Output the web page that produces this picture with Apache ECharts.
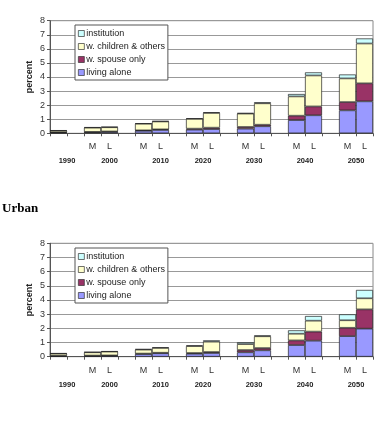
<!DOCTYPE html>
<html>
<head>
<meta charset="utf-8">
<script src="https://cdn.jsdelivr.net/npm/echarts@6/dist/echarts.min.js"></script>
<style>
  html, body { margin: 0; padding: 0; background: #fff; }
  #chart { width: 379px; height: 425px; }
</style>
</head>
<body>
<div id="chart"></div>
<script>
// bars in order: 1990, 2000 M/L, 2010 M/L, 2020 M/L, 2030 M/L, 2040 M/L, 2050 M/L
const slotLabels = ['', '', 'M', 'L', '', 'M', 'L', '', 'M', 'L', '', 'M', 'L', '', 'M', 'L', '', 'M', 'L']
const barSlots = [0, 2, 3, 5, 6, 8, 9, 11, 12, 14, 15, 17, 18]
// year labels sit on a half-slot scale (39 points)
const yearLabels = ['1990', '2000', '2010', '2020', '2030', '2040', '2050']
const yearPos = [2, 7, 13, 18, 24, 30, 36]

const seriesNames = ['living alone', 'w. spouse only', 'w. children & others', 'institution']
const colors = ['#9999ff', '#993366', '#ffffcc', '#ccffff']

// top panel
const topAlone = [0.05, 0.08, 0.10, 0.18, 0.24, 0.26, 0.30, 0.33, 0.50, 0.94, 1.28, 1.63, 2.27]
const topSpouse = [0.02, 0.02, 0.03, 0.03, 0.04, 0.07, 0.10, 0.12, 0.11, 0.31, 0.63, 0.59, 1.28]
const topChildren = [0.12, 0.30, 0.30, 0.47, 0.56, 0.70, 1.05, 0.95, 1.52, 1.37, 2.20, 1.68, 2.83]
const topInst = [0.02, 0.03, 0.03, 0.03, 0.03, 0.03, 0.04, 0.04, 0.07, 0.17, 0.22, 0.28, 0.36]

// urban panel
const urbAlone = [0.05, 0.06, 0.07, 0.19, 0.24, 0.21, 0.26, 0.31, 0.45, 0.82, 1.13, 1.45, 1.98]
const urbSpouse = [0.02, 0.02, 0.02, 0.03, 0.04, 0.05, 0.07, 0.16, 0.16, 0.33, 0.64, 0.59, 1.36]
const urbChildren = [0.15, 0.23, 0.27, 0.28, 0.34, 0.49, 0.73, 0.42, 0.83, 0.47, 0.77, 0.53, 0.78]
const urbInst = [0.02, 0.02, 0.02, 0.04, 0.04, 0.05, 0.09, 0.13, 0.06, 0.24, 0.33, 0.42, 0.59]

const yTicks = [0, 8, 1]

const toSlots = (vals) => {
  const out = slotLabels.map(() => null)
  barSlots.forEach((s, i) => { out[s] = vals[i] })
  return out
}

const yearCats = []
for (let i = 0; i < 39; i++) yearCats.push('')
yearPos.forEach((p, i) => { yearCats[p] = yearLabels[i] })

const font = 'Liberation Sans, Arial, sans-serif'

const grids = [
  { left: 50, right: 6, top: 20.7, height: 112.6, show: true, borderColor: '#888', borderWidth: 1 },
  { left: 50, right: 6, top: 243.3, height: 113.4, show: true, borderColor: '#888', borderWidth: 1 },
]

const xAxes = []
const yAxes = []
grids.forEach((g, gi) => {
  xAxes.push({
    type: 'category',
    gridIndex: gi,
    data: slotLabels,
    position: 'bottom',
    axisLine: { lineStyle: { color: '#555', width: 1 } },
    axisTick: { show: true, interval: 0, length: 3, lineStyle: { color: '#555' } },
    axisLabel: { interval: 0, fontSize: 9, color: '#333', margin: 9, fontFamily: font },
  })
  xAxes.push({
    type: 'category',
    gridIndex: gi,
    data: yearCats,
    boundaryGap: false,
    position: 'bottom',
    axisLine: { show: false },
    axisTick: { show: false },
    axisLabel: { interval: 0, fontSize: 7.5, fontWeight: 'bold', color: '#222', margin: 24, fontFamily: font },
  })
  yAxes.push({
    type: 'value',
    gridIndex: gi,
    min: yTicks[0],
    max: yTicks[1],
    interval: yTicks[2],
    name: 'percent',
    nameLocation: 'middle',
    nameGap: 16,
    nameMoveOverlap: false,
    nameTextStyle: { fontSize: 9, fontWeight: 'bold', color: '#222', fontFamily: font },
    axisLine: { show: true, lineStyle: { color: '#555' } },
    axisTick: { show: true, length: 3, lineStyle: { color: '#555' } },
    axisLabel: { fontSize: 9, color: '#333', margin: 5, fontFamily: font },
    splitLine: { lineStyle: { color: '#999', width: 1 } },
  })
})

const panels = [
  [topAlone, topSpouse, topChildren, topInst],
  [urbAlone, urbSpouse, urbChildren, urbInst],
]

const series = []
panels.forEach((vals, gi) => {
  vals.forEach((v, si) => {
    series.push({
      type: 'bar',
      name: seriesNames[si],
      xAxisIndex: gi * 2,
      yAxisIndex: gi,
      stack: 'p' + gi,
      data: toSlots(v),
      barCategoryGap: 0,
      itemStyle: { color: colors[si], borderColor: '#222', borderWidth: 0.7 },
    })
  })
})

const legendBase = {
  orient: 'vertical',
  left: 75,
  data: seriesNames.slice().reverse(),
  icon: 'rect',
  itemWidth: 6,
  itemHeight: 6,
  itemGap: 4,
  padding: [4, 3, 3, 3],
  backgroundColor: '#fff',
  borderColor: '#555',
  borderWidth: 1,
  borderRadius: 0,
  selectedMode: false,
  textStyle: { fontSize: 9, color: '#222', padding: [0, 0, 0, -3], fontFamily: font },
  itemStyle: { borderColor: '#333', borderWidth: 0.7 },
}

const chart = echarts.init(document.getElementById('chart'))
chart.setOption({
  animation: false,
  title: {
    text: 'Urban',
    left: -3,
    top: 197,
    textStyle: { fontFamily: 'Liberation Serif, serif', fontWeight: 'bold', fontSize: 13, color: '#000' },
  },
  grid: grids,
  xAxis: xAxes,
  yAxis: yAxes,
  legend: [
    Object.assign({}, legendBase, { top: 25 }),
    Object.assign({}, legendBase, { top: 248 }),
  ],
  series: series,
})
</script>
</body>
</html>
